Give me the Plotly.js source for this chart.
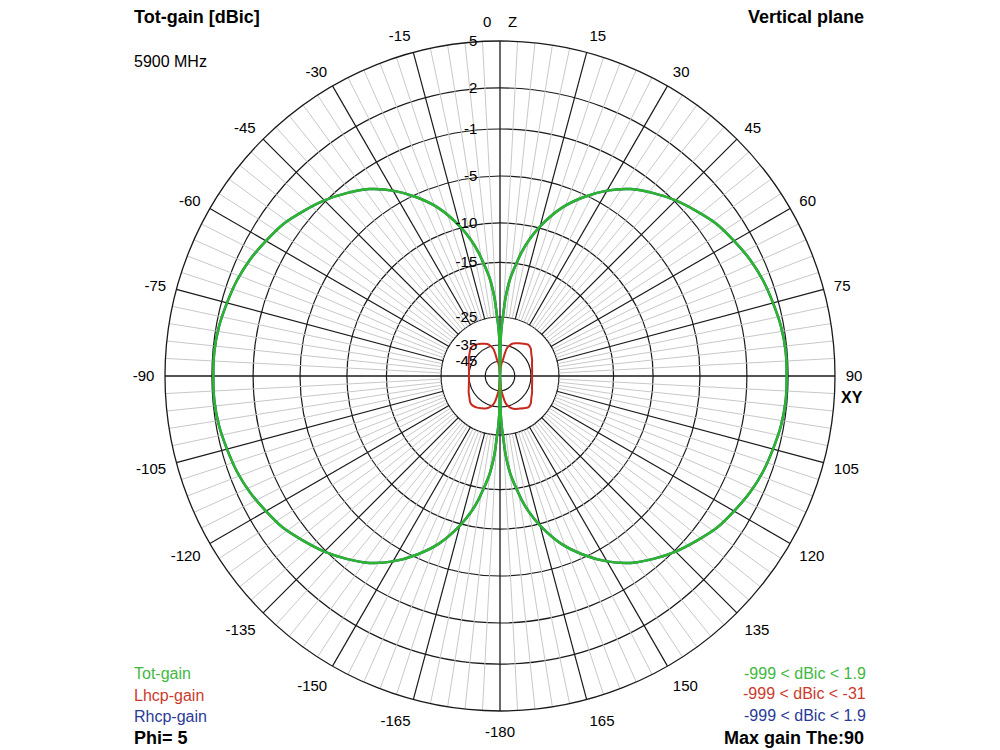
<!DOCTYPE html>
<html><head><meta charset="utf-8">
<script src="https://cdn.plot.ly/plotly-3.0.1.min.js"></script>
<style>html,body{margin:0;padding:0;background:#fff}#chart{width:1000px;height:750px}</style>
</head><body><div id="chart"></div>
<script>
// ---------- data ----------
const ringLabels = ['5', '2', '-1', '-5', '-10', '-15', '-25', '-35', '-45'];
const ringDb = [5, 2, -1, -5, -10, -15, -25, -35, -45];

const angleTicks = [0, 15, 30, 45, 60, 75, 90, 105, 120, 135, 150, 165, 180, 195, 210, 225, 240, 255, 270, 285, 300, 315, 330, 345];
const angleLabels = ['0\u00a0\u00a0\u00a0\u00a0Z', '15', '30', '45', '60', '75', '90', '105', '120', '135', '150', '165', '-180', '-165', '-150', '-135', '-120', '-105', '-90', '-75', '-60', '-45', '-30', '-15'];

// Tot-gain (dBic) vs theta (deg, 0 = Z, clockwise)
const totTheta = [-180, -179, -178, -177, -176, -175, -174, -172, -170, -168, -165, -160, -155, -150, -145, -140, -135, -130, -125, -120, -115, -110, -105, -100, -95, -90, -85, -80, -75, -70, -65, -60, -55, -50, -45, -40, -35, -30, -25, -20, -15, -12, -10, -8, -6, -5, -4, -3, -2, -1,
  0, 1, 2, 3, 4, 5, 6, 8, 10, 12, 15, 20, 25, 30, 35, 40, 45, 50, 55, 60, 65, 70, 75, 80, 85, 90, 95, 100, 105, 110, 115, 120, 125, 130, 135, 140, 145, 150, 155, 160, 165, 168, 170, 172, 174, 175, 176, 177, 178, 179, 180];
const totGain = [-999, -33, -28, -24.5, -21.5, -19.5, -17.8, -15.3, -13.4, -11.8, -9.8, -7.3, -5.3, -3.8, -2.6, -1.7, -0.9, -0.3, 0.3, 0.7, 1.1, 1.4, 1.6, 1.8, 1.9, 1.9, 1.9, 1.8, 1.6, 1.4, 1.1, 0.7, 0.3, -0.3, -0.9, -1.7, -2.6, -3.8, -5.3, -7.3, -9.8, -11.8, -13.4, -15.3, -17.8, -19.5, -21.5, -24.5, -28, -33,
  -999, -33, -28, -24.5, -21.5, -19.5, -17.8, -15.3, -13.4, -11.8, -9.8, -7.3, -5.3, -3.8, -2.6, -1.7, -0.9, -0.3, 0.3, 0.7, 1.1, 1.4, 1.6, 1.8, 1.9, 1.9, 1.9, 1.8, 1.6, 1.4, 1.1, 0.7, 0.3, -0.3, -0.9, -1.7, -2.6, -3.8, -5.3, -7.3, -9.8, -11.8, -13.4, -15.3, -17.8, -19.5, -21.5, -24.5, -28, -33, -999];

// Rhcp-gain (dBic): practically identical to Tot-gain
const rhcpTheta = totTheta;
const rhcpGain = [-999, -33, -28, -24.5, -21.5, -19.5, -17.8, -15.3, -13.4, -11.8, -9.8, -7.3, -5.3, -3.8, -2.6, -1.7, -0.9, -0.3, 0.3, 0.7, 1.1, 1.4, 1.6, 1.8, 1.9, 1.9, 1.9, 1.8, 1.6, 1.4, 1.1, 0.7, 0.3, -0.3, -0.9, -1.7, -2.6, -3.8, -5.3, -7.3, -9.8, -11.8, -13.4, -15.3, -17.8, -19.5, -21.5, -24.5, -28, -33,
  -999, -33, -28, -24.5, -21.5, -19.5, -17.8, -15.3, -13.4, -11.8, -9.8, -7.3, -5.3, -3.8, -2.6, -1.7, -0.9, -0.3, 0.3, 0.7, 1.1, 1.4, 1.6, 1.8, 1.9, 1.9, 1.9, 1.8, 1.6, 1.4, 1.1, 0.7, 0.3, -0.3, -0.9, -1.7, -2.6, -3.8, -5.3, -7.3, -9.8, -11.8, -13.4, -15.3, -17.8, -19.5, -21.5, -24.5, -28, -33, -999];

// Lhcp-gain (dBic)
const lhcpTheta = [-180, -176, -172, -169, -166, -162, -156, -150, -144, -138, -132, -125, -117, -110, -100, -90, -80, -70, -63, -55, -48, -42, -36, -30, -25, -20, -17, -14, -12, -10, -7, -4,
  0, 4, 7, 10, 12, 14, 17, 20, 25, 30, 36, 42, 48, 55, 63, 70, 80, 90, 100, 110, 117, 125, 132, 138, 144, 150, 156, 162, 166, 169, 172, 176, 180];
const lhcpGain = [-999, -47, -42, -38, -35.7, -34.4, -33.4, -32.8, -32.1, -31.7, -31.8, -32.7, -33.5, -34.2, -34.8, -35.0, -34.8, -34.2, -33.5, -32.7, -31.8, -31.5, -32.1, -32.8, -33.4, -34.1, -35.0, -36.8, -40, -44.5, -47, -52,
  -999, -52, -47, -44.5, -40, -36.5, -34.8, -33.9, -33.2, -32.6, -31.8, -31.0, -31.3, -32.4, -33.2, -33.9, -34.4, -34.6, -34.4, -33.9, -33.2, -32.4, -31.3, -31.0, -31.8, -32.6, -33.2, -34.2, -35.5, -37.8, -42, -47, -999];

// ---------- radial scale (log-like ring spacing, fraction of outer radius) ----------
const ringFrac = [1.000, 0.860, 0.737, 0.597, 0.457, 0.339, 0.176, 0.0925, 0.044];
function dbToR(db) {
  if (db >= ringDb[0]) return 1;
  for (let i = 0; i < ringDb.length - 1; i++) {
    if (db >= ringDb[i + 1]) {
      const t = (db - ringDb[i + 1]) / (ringDb[i] - ringDb[i + 1]);
      return ringFrac[i + 1] + t * (ringFrac[i] - ringFrac[i + 1]);
    }
  }
  const last = ringDb[ringDb.length - 1];
  return Math.max(0, ringFrac[ringFrac.length - 1] * (db - (last - 15)) / 15);
}

// ---------- grid spokes ----------
const spokeStart = dbToR(-25);
const minorT = [], minorR = [], majorT = [], majorR = [], axT = [], axR = [];
for (let a = 0; a < 360; a += 3) {
  if (a % 90 === 0) { axT.push(a, a, null); axR.push(0, 1, null); }
  else if (a % 15 === 0) { majorT.push(a, a, null); majorR.push(spokeStart, 1, null); }
  else { minorT.push(a, a, null); minorR.push(spokeStart, 1, null); }
}

const GREEN = '#2db52d', RED = '#c62a1e', BLUE = '#1f4f96';

const traces = [
  {type: 'scatterpolar', mode: 'lines', theta: minorT, r: minorR, line: {color: '#c8c8c8', width: 1}, hoverinfo: 'skip'},
  {type: 'scatterpolar', mode: 'lines', theta: majorT, r: majorR, line: {color: '#1a1a1a', width: 1.2}, hoverinfo: 'skip'},
  {type: 'scatterpolar', mode: 'lines', theta: axT, r: axR, line: {color: '#1a1a1a', width: 1.3}, hoverinfo: 'skip'},
  {type: 'scatterpolar', mode: 'lines', name: 'Rhcp-gain', theta: rhcpTheta, r: rhcpGain.map(dbToR), line: {color: BLUE, width: 2.5, shape: 'spline', smoothing: 0.8}},
  {type: 'scatterpolar', mode: 'lines', name: 'Lhcp-gain', theta: lhcpTheta, r: lhcpGain.map(dbToR), line: {color: RED, width: 2, shape: 'spline', smoothing: 0.6}},
  {type: 'scatterpolar', mode: 'lines', name: 'Tot-gain', theta: totTheta, r: totGain.map(dbToR), line: {color: GREEN, width: 2.5, shape: 'spline', smoothing: 0.8}}
];

const cx = 500, cy = 376, R = 335, W = 1000, H = 750;
const F = 'Arial, "Liberation Sans", sans-serif';
function ann(text, x, y, xanchor, size, color, bold) {
  return {text: bold ? '<b>' + text + '</b>' : text, x: x / W, y: 1 - y / H, xref: 'paper', yref: 'paper',
    xanchor: xanchor, yanchor: 'middle', showarrow: false, font: {family: F, size: size, color: color}};
}

const layout = {
  width: W, height: H, margin: {l: 0, r: 0, t: 0, b: 0},
  paper_bgcolor: '#fff', showlegend: false, hovermode: false,
  font: {family: F, color: '#000'},
  polar: {
    domain: {x: [(cx - R) / W, (cx + R) / W], y: [(H - cy - R) / H, (H - cy + R) / H]},
    bgcolor: '#fff',
    angularaxis: {
      rotation: 90, direction: 'clockwise', thetaunit: 'degrees',
      tickmode: 'array', tickvals: angleTicks, ticktext: angleLabels,
      showgrid: false, showline: true, linecolor: '#1a1a1a', linewidth: 1.3,
      ticks: 'outside', ticklen: 7, tickcolor: 'rgba(0,0,0,0)',
      tickfont: {family: F, size: 15, color: '#000'}
    },
    radialaxis: {
      range: [0, 1], angle: 90, side: 'counterclockwise', tickangle: 90,
      tickmode: 'array', tickvals: ringDb.map(dbToR), ticktext: ringLabels,
      showgrid: true, gridcolor: '#1a1a1a', gridwidth: 1.2,
      showline: false, ticks: 'outside', ticklen: 17, tickcolor: 'rgba(0,0,0,0)',
      tickfont: {family: F, size: 15, color: '#000'}
    }
  },
  annotations: [
    ann('Tot-gain [dBic]', 132, 17, 'left', 18, '#000', true),
    ann('5900 MHz', 132, 61, 'left', 16, '#000', false),
    ann('Vertical plane', 866, 17, 'right', 18, '#000', true),
    ann('XY', 852, 398, 'center', 16, '#000', true),
    ann('Tot-gain', 132, 673, 'left', 16, '#3fb83f', false),
    ann('Lhcp-gain', 132, 695, 'left', 16, '#cc3a2c', false),
    ann('Rhcp-gain', 132, 716, 'left', 16, '#2a3a98', false),
    ann('Phi= 5', 132, 738, 'left', 18, '#000', true),
    ann('-999 < dBic < 1.9', 868, 673, 'right', 16, '#3fb83f', false),
    ann('-999 < dBic < -31', 868, 693, 'right', 16, '#cc3a2c', false),
    ann('-999 < dBic < 1.9', 868, 715, 'right', 16, '#2a3a98', false),
    ann('Max gain The:90', 866, 738, 'right', 18, '#000', true)
  ]
};

Plotly.newPlot('chart', traces, layout, {displayModeBar: false, staticPlot: true});
</script></body></html>
